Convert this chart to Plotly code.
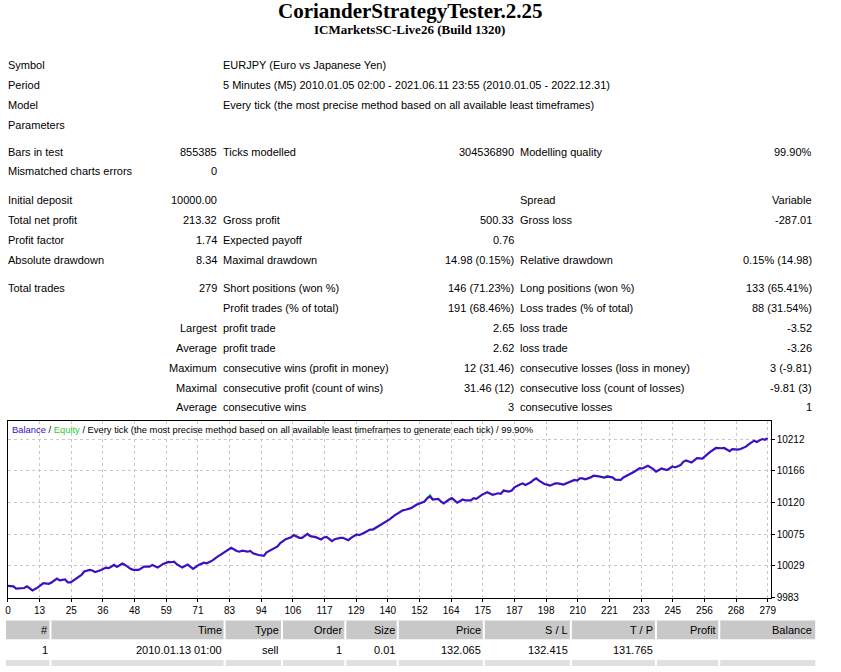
import plotly.graph_objects as go

W, H = 841, 672

# ---------------- data ----------------
title = "CorianderStrategyTester.2.25"
subtitle = "ICMarketsSC-Live26 (Build 1320)"

info_labels = ["Symbol", "Period", "Model", "Parameters"]
info_values = [
    "EURJPY (Euro vs Japanese Yen)",
    "5 Minutes (M5) 2010.01.05 02:00 - 2021.06.11 23:55 (2010.01.05 - 2022.12.31)",
    "Every tick (the most precise method based on all available least timeframes)",
    "",
]

stat_rows = [
    ["Bars in test", "855385", "Ticks modelled", "304536890", "Modelling quality", "99.90%"],
    ["Mismatched charts errors", "0", "", "", "", ""],
    ["Initial deposit", "10000.00", "", "", "Spread", "Variable"],
    ["Total net profit", "213.32", "Gross profit", "500.33", "Gross loss", "-287.01"],
    ["Profit factor", "1.74", "Expected payoff", "0.76", "", ""],
    ["Absolute drawdown", "8.34", "Maximal drawdown", "14.98 (0.15%)", "Relative drawdown", "0.15% (14.98)"],
    ["Total trades", "279", "Short positions (won %)", "146 (71.23%)", "Long positions (won %)", "133 (65.41%)"],
    ["", "", "Profit trades (% of total)", "191 (68.46%)", "Loss trades (% of total)", "88 (31.54%)"],
    ["", "Largest", "profit trade", "2.65", "loss trade", "-3.52"],
    ["", "Average", "profit trade", "2.62", "loss trade", "-3.26"],
    ["", "Maximum", "consecutive wins (profit in money)", "12 (31.46)", "consecutive losses (loss in money)", "3 (-9.81)"],
    ["", "Maximal", "consecutive profit (count of wins)", "31.46 (12)", "consecutive loss (count of losses)", "-9.81 (3)"],
    ["", "Average", "consecutive wins", "3", "consecutive losses", "1"],
]

# balance curve (trade number, balance)
trade_no = [0, 2, 3, 5, 6, 7, 9, 11, 13, 15, 16, 18, 19, 21, 22, 23, 25, 27, 28, 30,
            31, 32, 34, 36, 37, 39, 40, 42, 43, 45, 46, 48, 50, 52, 53, 55, 57, 59, 60, 61,
            62, 64, 66, 68, 70, 72, 73, 75, 77, 79, 80, 82, 84, 85, 86, 88, 89, 90, 92, 94,
            95, 97, 99, 100, 102, 104, 105, 107, 108, 110, 111, 113, 115, 116, 117, 119, 120, 122, 123, 125,
            126, 128, 129, 131, 133, 134, 136, 138, 140, 142, 143, 145, 146, 148, 150, 153, 154, 155, 156, 158,
            159, 160, 162, 163, 164, 165, 167, 168, 170, 171, 172, 173, 174, 176, 177, 178, 180, 181, 182, 184,
            185, 186, 188, 189, 190, 192, 193, 194, 195, 197, 198, 199, 201, 202, 204, 206, 208, 209, 210, 211,
            212, 214, 215, 217, 218, 219, 220, 222, 223, 225, 226, 228, 230, 232, 233, 235, 237, 238, 239, 240,
            242, 244, 245, 247, 248, 249, 251, 252, 253, 255, 256, 257, 258, 260, 262, 263, 265, 266, 268, 269,
            271, 272, 274, 275, 276, 277, 278, 279]
balance = [10000.0, 9999.2, 9995.9, 9995.9, 9996.9, 9999.2, 9993.5, 9997.8, 10004.0, 10003.0,
           10004.9, 10010.6, 10007.8, 10009.2, 10004.9, 10004.9, 10010.2, 10015.9, 10020.6, 10023.1,
           10022.1, 10019.8, 10022.6, 10026.4, 10025.5, 10030.2, 10027.4, 10032.1, 10030.2, 10024.5,
           10023.1, 10023.1, 10027.8, 10027.8, 10030.2, 10026.4, 10031.7, 10034.5, 10034.1, 10035.0,
           10031.2, 10026.4, 10030.7, 10024.5, 10030.2, 10033.5, 10032.6, 10036.4, 10042.1, 10047.0,
           10050.3, 10055.0, 10050.3, 10049.3, 10050.7, 10049.3, 10050.3, 10047.0, 10044.5, 10043.5,
           10048.4, 10052.7, 10057.0, 10061.7, 10067.4, 10070.3, 10073.2, 10069.3, 10069.3, 10075.0,
           10071.7, 10070.3, 10067.0, 10069.9, 10070.7, 10064.6, 10067.4, 10069.3, 10069.3, 10066.0,
           10069.3, 10074.2, 10073.2, 10077.0, 10081.3, 10081.3, 10086.1, 10090.8, 10095.6, 10101.8,
           10104.2, 10109.0, 10109.9, 10112.2, 10117.1, 10121.8, 10126.6, 10129.0, 10124.7, 10125.7,
           10121.8, 10119.0, 10124.7, 10126.6, 10123.3, 10120.0, 10124.7, 10123.3, 10123.3, 10126.6,
           10125.7, 10129.0, 10131.4, 10135.1, 10132.9, 10131.4, 10133.7, 10132.9, 10137.6, 10136.1,
           10137.6, 10142.3, 10146.2, 10148.0, 10145.7, 10149.5, 10152.9, 10155.2, 10151.9, 10147.1,
           10146.2, 10144.7, 10148.0, 10148.0, 10146.2, 10149.5, 10152.9, 10151.9, 10155.2, 10155.2,
           10153.8, 10156.6, 10159.0, 10158.0, 10157.6, 10156.2, 10157.6, 10156.6, 10153.3, 10152.9,
           10156.6, 10160.5, 10164.8, 10170.1, 10169.5, 10173.4, 10168.6, 10164.8, 10167.2, 10169.5,
           10167.2, 10172.4, 10171.0, 10174.4, 10179.1, 10181.0, 10178.1, 10181.5, 10184.4, 10183.8,
           10187.7, 10190.5, 10193.8, 10199.1, 10198.7, 10199.1, 10194.4, 10197.3, 10196.7, 10197.7,
           10201.0, 10204.4, 10209.6, 10207.7, 10210.1, 10212.0, 10211.0, 10213.32]

# equity: hidden under balance except for two short floating peaks visible in green
equity_trade_no = [154, 155, 156, None, 219, 220, 221]
equity_values = [10126.6, 10131.0, 10124.7, None, 10156.2, 10158.8, 10157.6]

x_tick_labels = ["0", "13", "25", "36", "48", "59", "71", "83", "94", "106", "117", "129", "140",
                 "152", "164", "175", "187", "198", "210", "221", "233", "245", "256", "268", "279"]
y_tick_labels = ["9983", "10029", "10075", "10120", "10166", "10212"]

chart_caption = "Every tick (the most precise method based on all available least timeframes to generate each tick) / 99.90%"

trade_header = ["#", "Time", "Type", "Order", "Size", "Price", "S / L", "T / P", "Profit", "Balance"]
trade_row1 = ["1", "2010.01.13 01:00", "sell", "1", "0.01", "132.065", "132.415", "131.765", "", ""]

# ---------------- layout helpers ----------------
def px(x):
    return x / W

def py(y):
    return 1 - y / H

BAL_COLOR = "#3a10c0"
EQ_COLOR = "#33cc33"
TXT = "#000000"
FONT = "Liberation Sans, Arial, sans-serif"
FS = 11

annotations = []
shapes = []

def text(x, y, s, anchor="left", size=FS, family=FONT, color=TXT):
    if s == "":
        return
    annotations.append(dict(x=px(x), y=py(y), xref="paper", yref="paper", text=s,
                            showarrow=False, xanchor=anchor, yanchor="middle",
                            borderpad=0, borderwidth=0,
                            font=dict(family=family, size=size, color=color)))

# header
annotations.append(dict(x=px(411), y=py(11), xref="paper", yref="paper", text="<b>%s</b>" % title,
                        showarrow=False, xanchor="center", yanchor="middle", borderpad=0,
                        font=dict(family="Liberation Serif, Times New Roman, serif", size=21, color=TXT)))
annotations.append(dict(x=px(411), y=py(30), xref="paper", yref="paper", text="<b>%s</b>" % subtitle,
                        showarrow=False, xanchor="center", yanchor="middle", borderpad=0,
                        font=dict(family="Liberation Serif, Times New Roman, serif", size=13, color=TXT)))

info_y = [66, 86, 106, 126]
for yy, lab, val in zip(info_y, info_labels, info_values):
    text(5, yy, lab)
    text(222, yy, val)

stat_y = [153, 173, 202, 222, 242, 262, 291, 311, 331, 351, 371, 391, 411]
col_x = [(5, "left"), (216, "right"), (222, "left"), (517, "right"), (523, "left"), (818, "right")]
for yy, row in zip(stat_y, stat_rows):
    for (cx, anc), s in zip(col_x, row):
        text(cx, yy, s, anchor=anc)

# chart caption
cap = ("<span style='color:%s'>Balance</span> / <span style='color:%s'>Equity</span> / %s"
       % (BAL_COLOR, EQ_COLOR, chart_caption))
text(9, 433, cap, size=9.4)

# trade table
col_edges = [3, 48, 224, 282, 346, 399, 486, 574, 660, 724, 821]
shapes.append(dict(type="rect", xref="paper", yref="paper", x0=px(3), x1=px(821), y0=py(645), y1=py(626),
                   fillcolor="#c8c8c8", line=dict(width=0), layer="below"))
shapes.append(dict(type="rect", xref="paper", yref="paper", x0=px(3), x1=px(821), y0=py(672), y1=py(666),
                   fillcolor="#e0e0e0", line=dict(width=0), layer="below"))
for e in col_edges[1:-1]:
    for (ya, yb) in [(626, 645), (666, 672)]:
        shapes.append(dict(type="line", xref="paper", yref="paper", x0=px(e), x1=px(e), y0=py(ya), y1=py(yb),
                           line=dict(color="#ffffff", width=2)))
for i, (h, v) in enumerate(zip(trade_header, trade_row1)):
    right = col_edges[i + 1] - 3
    text(right, 636, h, anchor="right")
    text(right, 656, v, anchor="right")

# ---------------- chart ----------------
x_tick_vals = [i * 279 / 24 for i in range(25)]
y_step = 45.8
y_tick_vals = [9983 + i * y_step for i in range(6)]

fig = go.Figure()
fig.add_trace(go.Scatter(x=equity_trade_no, y=equity_values, mode="lines", connectgaps=False,
                         line=dict(color=EQ_COLOR, width=2), hoverinfo="skip"))
fig.add_trace(go.Scatter(x=trade_no, y=balance, mode="lines",
                         line=dict(color=BAL_COLOR, width=2.2), hoverinfo="skip"))

fig.update_layout(
    width=W, height=H, margin=dict(l=0, r=0, t=0, b=0), autosize=False,
    paper_bgcolor="white", plot_bgcolor="white", showlegend=False,
    annotations=annotations, shapes=shapes,
    xaxis=dict(domain=[px(5), px(776)], range=[0, 279 * 771 / 768],
               tickvals=x_tick_vals, ticktext=x_tick_labels,
               showgrid=True, gridcolor="#c8c8c8", griddash="3px,3px", gridwidth=1,
               showline=True, linecolor="black", linewidth=1, mirror=True,
               ticks="outside", ticklen=3, tickcolor="black", zeroline=False,
               tickfont=dict(family=FONT, size=10, color=TXT), fixedrange=True),
    yaxis=dict(domain=[py(603), py(425)], range=[9983, 9983 + y_step * 178 / 32],
               tickvals=y_tick_vals, ticktext=y_tick_labels, side="right",
               showgrid=True, gridcolor="#c8c8c8", griddash="3px,3px", gridwidth=1,
               showline=True, linecolor="black", linewidth=1, mirror=True,
               ticks="outside", ticklen=3, tickcolor="black", zeroline=False,
               tickfont=dict(family=FONT, size=10, color=TXT), fixedrange=True),
)

fig.write_html("out.html", config={"displayModeBar": False})
